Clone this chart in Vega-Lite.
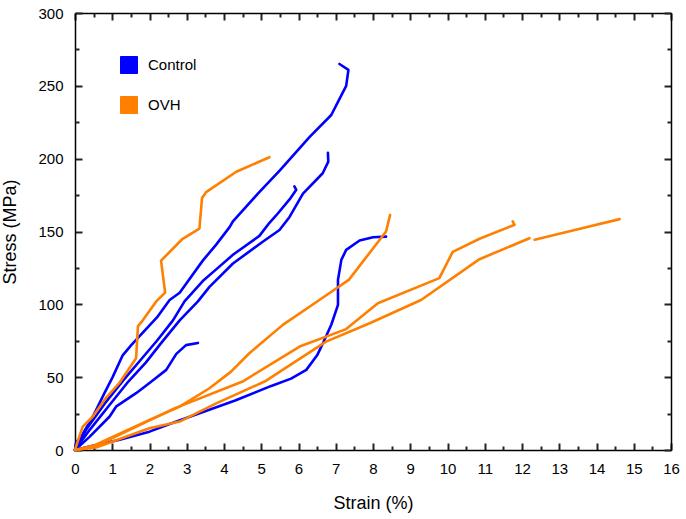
{
  "$schema": "https://vega.github.io/schema/vega-lite/v6.json",
  "width": 596,
  "height": 437,
  "autosize": "none",
  "padding": {"left": 75, "top": 13, "right": 15, "bottom": 69},
  "data": {
    "values": [
      {"s": "C1", "g": "Control", "i": 0, "x": 0, "y": 0},
      {"s": "C1", "g": "Control", "i": 1, "x": 0.03, "y": 5},
      {"s": "C1", "g": "Control", "i": 2, "x": 0.21, "y": 11},
      {"s": "C1", "g": "Control", "i": 3, "x": 0.48, "y": 23},
      {"s": "C1", "g": "Control", "i": 4, "x": 0.79, "y": 39},
      {"s": "C1", "g": "Control", "i": 5, "x": 1.01, "y": 50},
      {"s": "C1", "g": "Control", "i": 6, "x": 1.28, "y": 65},
      {"s": "C1", "g": "Control", "i": 7, "x": 1.51, "y": 72},
      {"s": "C1", "g": "Control", "i": 8, "x": 1.69, "y": 77},
      {"s": "C1", "g": "Control", "i": 9, "x": 2.2, "y": 91},
      {"s": "C1", "g": "Control", "i": 10, "x": 2.54, "y": 103},
      {"s": "C1", "g": "Control", "i": 11, "x": 2.81, "y": 108},
      {"s": "C1", "g": "Control", "i": 12, "x": 3.43, "y": 130},
      {"s": "C1", "g": "Control", "i": 13, "x": 3.79, "y": 141},
      {"s": "C1", "g": "Control", "i": 14, "x": 4.15, "y": 153},
      {"s": "C1", "g": "Control", "i": 15, "x": 4.24, "y": 157},
      {"s": "C1", "g": "Control", "i": 16, "x": 4.91, "y": 176},
      {"s": "C1", "g": "Control", "i": 17, "x": 5.5, "y": 192},
      {"s": "C1", "g": "Control", "i": 18, "x": 6.3, "y": 215},
      {"s": "C1", "g": "Control", "i": 19, "x": 6.88, "y": 230},
      {"s": "C1", "g": "Control", "i": 20, "x": 7.06, "y": 239},
      {"s": "C1", "g": "Control", "i": 21, "x": 7.28, "y": 250},
      {"s": "C1", "g": "Control", "i": 22, "x": 7.34, "y": 261},
      {"s": "C1", "g": "Control", "i": 23, "x": 7.1, "y": 265},
      {"s": "C2", "g": "Control", "i": 0, "x": 0, "y": 0},
      {"s": "C2", "g": "Control", "i": 1, "x": 0.4, "y": 14},
      {"s": "C2", "g": "Control", "i": 2, "x": 0.9, "y": 30},
      {"s": "C2", "g": "Control", "i": 3, "x": 1.4, "y": 46},
      {"s": "C2", "g": "Control", "i": 4, "x": 1.9, "y": 60},
      {"s": "C2", "g": "Control", "i": 5, "x": 2.3, "y": 73},
      {"s": "C2", "g": "Control", "i": 6, "x": 2.81, "y": 89},
      {"s": "C2", "g": "Control", "i": 7, "x": 3.3, "y": 102},
      {"s": "C2", "g": "Control", "i": 8, "x": 3.61, "y": 112},
      {"s": "C2", "g": "Control", "i": 9, "x": 4.24, "y": 128},
      {"s": "C2", "g": "Control", "i": 10, "x": 5.04, "y": 143},
      {"s": "C2", "g": "Control", "i": 11, "x": 5.49, "y": 151},
      {"s": "C2", "g": "Control", "i": 12, "x": 5.76, "y": 160},
      {"s": "C2", "g": "Control", "i": 13, "x": 6.12, "y": 176},
      {"s": "C2", "g": "Control", "i": 14, "x": 6.65, "y": 190},
      {"s": "C2", "g": "Control", "i": 15, "x": 6.8, "y": 198},
      {"s": "C2", "g": "Control", "i": 16, "x": 6.79, "y": 204},
      {"s": "C3", "g": "Control", "i": 0, "x": 0, "y": 0},
      {"s": "C3", "g": "Control", "i": 1, "x": 0.3, "y": 14},
      {"s": "C3", "g": "Control", "i": 2, "x": 0.8, "y": 32},
      {"s": "C3", "g": "Control", "i": 3, "x": 1.3, "y": 48},
      {"s": "C3", "g": "Control", "i": 4, "x": 1.8, "y": 63},
      {"s": "C3", "g": "Control", "i": 5, "x": 2.2, "y": 75},
      {"s": "C3", "g": "Control", "i": 6, "x": 2.63, "y": 89},
      {"s": "C3", "g": "Control", "i": 7, "x": 2.94, "y": 102},
      {"s": "C3", "g": "Control", "i": 8, "x": 3.43, "y": 116},
      {"s": "C3", "g": "Control", "i": 9, "x": 3.79, "y": 124},
      {"s": "C3", "g": "Control", "i": 10, "x": 4.24, "y": 134},
      {"s": "C3", "g": "Control", "i": 11, "x": 4.95, "y": 147},
      {"s": "C3", "g": "Control", "i": 12, "x": 5.22, "y": 156},
      {"s": "C3", "g": "Control", "i": 13, "x": 5.4, "y": 161},
      {"s": "C3", "g": "Control", "i": 14, "x": 5.76, "y": 172},
      {"s": "C3", "g": "Control", "i": 15, "x": 5.94, "y": 178.6},
      {"s": "C3", "g": "Control", "i": 16, "x": 5.89, "y": 181},
      {"s": "C4", "g": "Control", "i": 0, "x": 0, "y": 0},
      {"s": "C4", "g": "Control", "i": 1, "x": 0.39, "y": 9},
      {"s": "C4", "g": "Control", "i": 2, "x": 0.93, "y": 23},
      {"s": "C4", "g": "Control", "i": 3, "x": 1.11, "y": 30},
      {"s": "C4", "g": "Control", "i": 4, "x": 1.64, "y": 39},
      {"s": "C4", "g": "Control", "i": 5, "x": 2.0, "y": 46},
      {"s": "C4", "g": "Control", "i": 6, "x": 2.45, "y": 55},
      {"s": "C4", "g": "Control", "i": 7, "x": 2.72, "y": 66},
      {"s": "C4", "g": "Control", "i": 8, "x": 2.98, "y": 72},
      {"s": "C4", "g": "Control", "i": 9, "x": 3.3, "y": 73.5},
      {"s": "C5", "g": "Control", "i": 0, "x": 0, "y": 0},
      {"s": "C5", "g": "Control", "i": 1, "x": 0.5, "y": 3},
      {"s": "C5", "g": "Control", "i": 2, "x": 1.2, "y": 7},
      {"s": "C5", "g": "Control", "i": 3, "x": 2.0, "y": 12.6},
      {"s": "C5", "g": "Control", "i": 4, "x": 2.67, "y": 19},
      {"s": "C5", "g": "Control", "i": 5, "x": 3.1, "y": 23},
      {"s": "C5", "g": "Control", "i": 6, "x": 4.3, "y": 34},
      {"s": "C5", "g": "Control", "i": 7, "x": 5.27, "y": 44},
      {"s": "C5", "g": "Control", "i": 8, "x": 5.8, "y": 49},
      {"s": "C5", "g": "Control", "i": 9, "x": 6.21, "y": 55},
      {"s": "C5", "g": "Control", "i": 10, "x": 6.5, "y": 65},
      {"s": "C5", "g": "Control", "i": 11, "x": 6.65, "y": 73},
      {"s": "C5", "g": "Control", "i": 12, "x": 6.88, "y": 86},
      {"s": "C5", "g": "Control", "i": 13, "x": 7.06, "y": 99.6},
      {"s": "C5", "g": "Control", "i": 14, "x": 7.06, "y": 116.8},
      {"s": "C5", "g": "Control", "i": 15, "x": 7.15, "y": 130.5},
      {"s": "C5", "g": "Control", "i": 16, "x": 7.28, "y": 137.4},
      {"s": "C5", "g": "Control", "i": 17, "x": 7.64, "y": 143.8},
      {"s": "C5", "g": "Control", "i": 18, "x": 8.0, "y": 146},
      {"s": "C5", "g": "Control", "i": 19, "x": 8.35, "y": 146.5},
      {"s": "O1", "g": "OVH", "i": 0, "x": 0, "y": 0},
      {"s": "O1", "g": "OVH", "i": 1, "x": 0.1, "y": 8},
      {"s": "O1", "g": "OVH", "i": 2, "x": 0.21, "y": 16},
      {"s": "O1", "g": "OVH", "i": 3, "x": 0.48, "y": 23},
      {"s": "O1", "g": "OVH", "i": 4, "x": 0.84, "y": 36},
      {"s": "O1", "g": "OVH", "i": 5, "x": 1.19, "y": 46},
      {"s": "O1", "g": "OVH", "i": 6, "x": 1.64, "y": 63},
      {"s": "O1", "g": "OVH", "i": 7, "x": 1.69, "y": 85},
      {"s": "O1", "g": "OVH", "i": 8, "x": 1.82, "y": 89},
      {"s": "O1", "g": "OVH", "i": 9, "x": 2.18, "y": 102},
      {"s": "O1", "g": "OVH", "i": 10, "x": 2.42, "y": 108},
      {"s": "O1", "g": "OVH", "i": 11, "x": 2.31, "y": 130},
      {"s": "O1", "g": "OVH", "i": 12, "x": 2.89, "y": 145},
      {"s": "O1", "g": "OVH", "i": 13, "x": 3.34, "y": 152},
      {"s": "O1", "g": "OVH", "i": 14, "x": 3.41, "y": 173},
      {"s": "O1", "g": "OVH", "i": 15, "x": 3.52, "y": 177},
      {"s": "O1", "g": "OVH", "i": 16, "x": 4.33, "y": 191},
      {"s": "O1", "g": "OVH", "i": 17, "x": 5.22, "y": 201},
      {"s": "O2", "g": "OVH", "i": 0, "x": 0, "y": 0},
      {"s": "O2", "g": "OVH", "i": 1, "x": 0.5, "y": 3},
      {"s": "O2", "g": "OVH", "i": 2, "x": 2.0, "y": 20.6},
      {"s": "O2", "g": "OVH", "i": 3, "x": 2.81, "y": 29.8},
      {"s": "O2", "g": "OVH", "i": 4, "x": 3.61, "y": 42.4},
      {"s": "O2", "g": "OVH", "i": 5, "x": 4.19, "y": 53.8},
      {"s": "O2", "g": "OVH", "i": 6, "x": 4.68, "y": 66.4},
      {"s": "O2", "g": "OVH", "i": 7, "x": 5.58, "y": 85.9},
      {"s": "O2", "g": "OVH", "i": 8, "x": 6.56, "y": 103},
      {"s": "O2", "g": "OVH", "i": 9, "x": 7.35, "y": 116.8},
      {"s": "O2", "g": "OVH", "i": 10, "x": 8.17, "y": 144},
      {"s": "O2", "g": "OVH", "i": 11, "x": 8.35, "y": 150},
      {"s": "O2", "g": "OVH", "i": 12, "x": 8.46, "y": 161.4},
      {"s": "O3", "g": "OVH", "i": 0, "x": 0, "y": 0},
      {"s": "O3", "g": "OVH", "i": 1, "x": 0.5, "y": 2},
      {"s": "O3", "g": "OVH", "i": 2, "x": 2.67, "y": 28.6},
      {"s": "O3", "g": "OVH", "i": 3, "x": 4.5, "y": 47},
      {"s": "O3", "g": "OVH", "i": 4, "x": 5.58, "y": 64},
      {"s": "O3", "g": "OVH", "i": 5, "x": 6.03, "y": 71},
      {"s": "O3", "g": "OVH", "i": 6, "x": 7.28, "y": 83},
      {"s": "O3", "g": "OVH", "i": 7, "x": 8.13, "y": 100.7},
      {"s": "O3", "g": "OVH", "i": 8, "x": 9.78, "y": 118},
      {"s": "O3", "g": "OVH", "i": 9, "x": 10.14, "y": 136},
      {"s": "O3", "g": "OVH", "i": 10, "x": 10.86, "y": 145},
      {"s": "O3", "g": "OVH", "i": 11, "x": 11.8, "y": 154.6},
      {"s": "O3", "g": "OVH", "i": 12, "x": 11.75, "y": 157},
      {"s": "O4a", "g": "OVH", "i": 0, "x": 0, "y": 0},
      {"s": "O4a", "g": "OVH", "i": 1, "x": 0.6, "y": 2},
      {"s": "O4a", "g": "OVH", "i": 2, "x": 2.0, "y": 14.9},
      {"s": "O4a", "g": "OVH", "i": 3, "x": 2.81, "y": 19.5},
      {"s": "O4a", "g": "OVH", "i": 4, "x": 3.79, "y": 32},
      {"s": "O4a", "g": "OVH", "i": 5, "x": 5.09, "y": 47},
      {"s": "O4a", "g": "OVH", "i": 6, "x": 6.74, "y": 74.4},
      {"s": "O4a", "g": "OVH", "i": 7, "x": 7.91, "y": 87},
      {"s": "O4a", "g": "OVH", "i": 8, "x": 9.29, "y": 103},
      {"s": "O4a", "g": "OVH", "i": 9, "x": 10.86, "y": 131},
      {"s": "O4a", "g": "OVH", "i": 10, "x": 12.2, "y": 145.4},
      {"s": "O4b", "g": "OVH", "i": 0, "x": 12.34, "y": 144.3},
      {"s": "O4b", "g": "OVH", "i": 1, "x": 13.5, "y": 151.5},
      {"s": "O4b", "g": "OVH", "i": 2, "x": 14.62, "y": 158.5}
    ]
  },
  "layer": [
    {
      "mark": {"type": "line", "strokeWidth": 2.6, "strokeJoin": "round", "strokeCap": "round"},
      "encoding": {
        "x": {
          "field": "x", "type": "quantitative",
          "scale": {"domain": [0, 16], "nice": false},
          "title": "Strain (%)",
          "axis": {
            "orient": "bottom",
            "tickCount": 16,
            "gridOpacity": 0,
            "labelFlush": false,
            "domainColor": "#000000",
            "domainWidth": 1.5,
            "tickColor": "#222222",
            "tickWidth": 2,
            "tickSize": -7,
            "labelPadding": 18,
            "titlePadding": 18,
            "labelFont": "Liberation Sans",
            "labelFontSize": 15,
            "labelColor": "#000000",
            "titleFont": "Liberation Sans",
            "titleFontSize": 18,
            "titleFontWeight": "normal",
            "titleColor": "#000000"
          }
        },
        "y": {
          "field": "y", "type": "quantitative",
          "scale": {"domain": [0, 300], "nice": false},
          "title": "Stress (MPa)",
          "axis": {
            "orient": "left",
            "tickCount": 6,
            "gridOpacity": 0,
            "labelFlush": false,
            "domainColor": "#000000",
            "domainWidth": 1.5,
            "tickColor": "#222222",
            "tickWidth": 2,
            "tickSize": -7,
            "labelPadding": 19,
            "titlePadding": 18,
            "labelFont": "Liberation Sans",
            "labelFontSize": 15,
            "labelColor": "#000000",
            "titleFont": "Liberation Sans",
            "titleFontSize": 18,
            "titleFontWeight": "normal",
            "titleColor": "#000000"
          }
        },
        "color": {
          "field": "g", "type": "nominal",
          "scale": {"domain": ["Control", "OVH"], "range": ["#0000FF", "#FF7F00"]},
          "legend": {
            "title": null,
            "orient": "none",
            "legendX": 45,
            "legendY": 43,
            "symbolType": "square",
            "symbolSize": 289,
            "symbolStrokeWidth": 1,
            "labelFont": "Liberation Sans",
            "labelFontSize": 15,
            "labelColor": "#000000",
            "labelOffset": 10,
            "rowPadding": 18,
            "padding": 0,
            "encode": {
              "symbols": {
                "update": {
                  "fill": {"scale": "color", "field": "value"},
                  "fillOpacity": {"value": 1},
                  "stroke": {"value": "#777777"}
                }
              }
            }
          }
        },
        "detail": {"field": "s"},
        "order": {"field": "i"}
      }
    },
    {
      "mark": {"type": "point", "opacity": 0},
      "encoding": {
        "x": {
          "field": "x", "type": "quantitative",
          "axis": {
            "orient": "bottom", "title": null, "labels": false, "domain": false, "gridOpacity": 0,
            "values": [0.5, 1.5, 2.5, 3.5, 4.5, 5.5, 6.5, 7.5, 8.5, 9.5, 10.5, 11.5, 12.5, 13.5, 14.5, 15.5],
            "tickColor": "#222222", "tickWidth": 2, "tickSize": -4
          }
        },
        "y": {
          "field": "y", "type": "quantitative",
          "axis": {
            "orient": "left", "title": null, "labels": false, "domain": false, "gridOpacity": 0,
            "values": [25, 75, 125, 175, 225, 275],
            "tickColor": "#222222", "tickWidth": 2, "tickSize": -4
          }
        }
      }
    },
    {
      "mark": {"type": "point", "opacity": 0},
      "encoding": {
        "x": {
          "field": "x", "type": "quantitative",
          "axis": {
            "orient": "top", "title": null, "labels": false, "gridOpacity": 0,
            "tickCount": 16,
            "domainColor": "#000000", "domainWidth": 1.5,
            "tickColor": "#222222", "tickWidth": 2, "tickSize": -7
          }
        },
        "y": {
          "field": "y", "type": "quantitative",
          "axis": {
            "orient": "right", "title": null, "labels": false, "gridOpacity": 0,
            "tickCount": 6,
            "domainColor": "#000000", "domainWidth": 1.5,
            "tickColor": "#222222", "tickWidth": 2, "tickSize": -7
          }
        }
      }
    },
    {
      "mark": {"type": "point", "opacity": 0},
      "encoding": {
        "x": {
          "field": "x", "type": "quantitative",
          "axis": {
            "orient": "top", "title": null, "labels": false, "domain": false, "gridOpacity": 0,
            "values": [0.5, 1.5, 2.5, 3.5, 4.5, 5.5, 6.5, 7.5, 8.5, 9.5, 10.5, 11.5, 12.5, 13.5, 14.5, 15.5],
            "tickColor": "#222222", "tickWidth": 2, "tickSize": -4
          }
        },
        "y": {
          "field": "y", "type": "quantitative",
          "axis": {
            "orient": "right", "title": null, "labels": false, "domain": false, "gridOpacity": 0,
            "values": [25, 75, 125, 175, 225, 275],
            "tickColor": "#222222", "tickWidth": 2, "tickSize": -4
          }
        }
      }
    }
  ],
  "resolve": {"axis": {"x": "independent", "y": "independent"}}
}
